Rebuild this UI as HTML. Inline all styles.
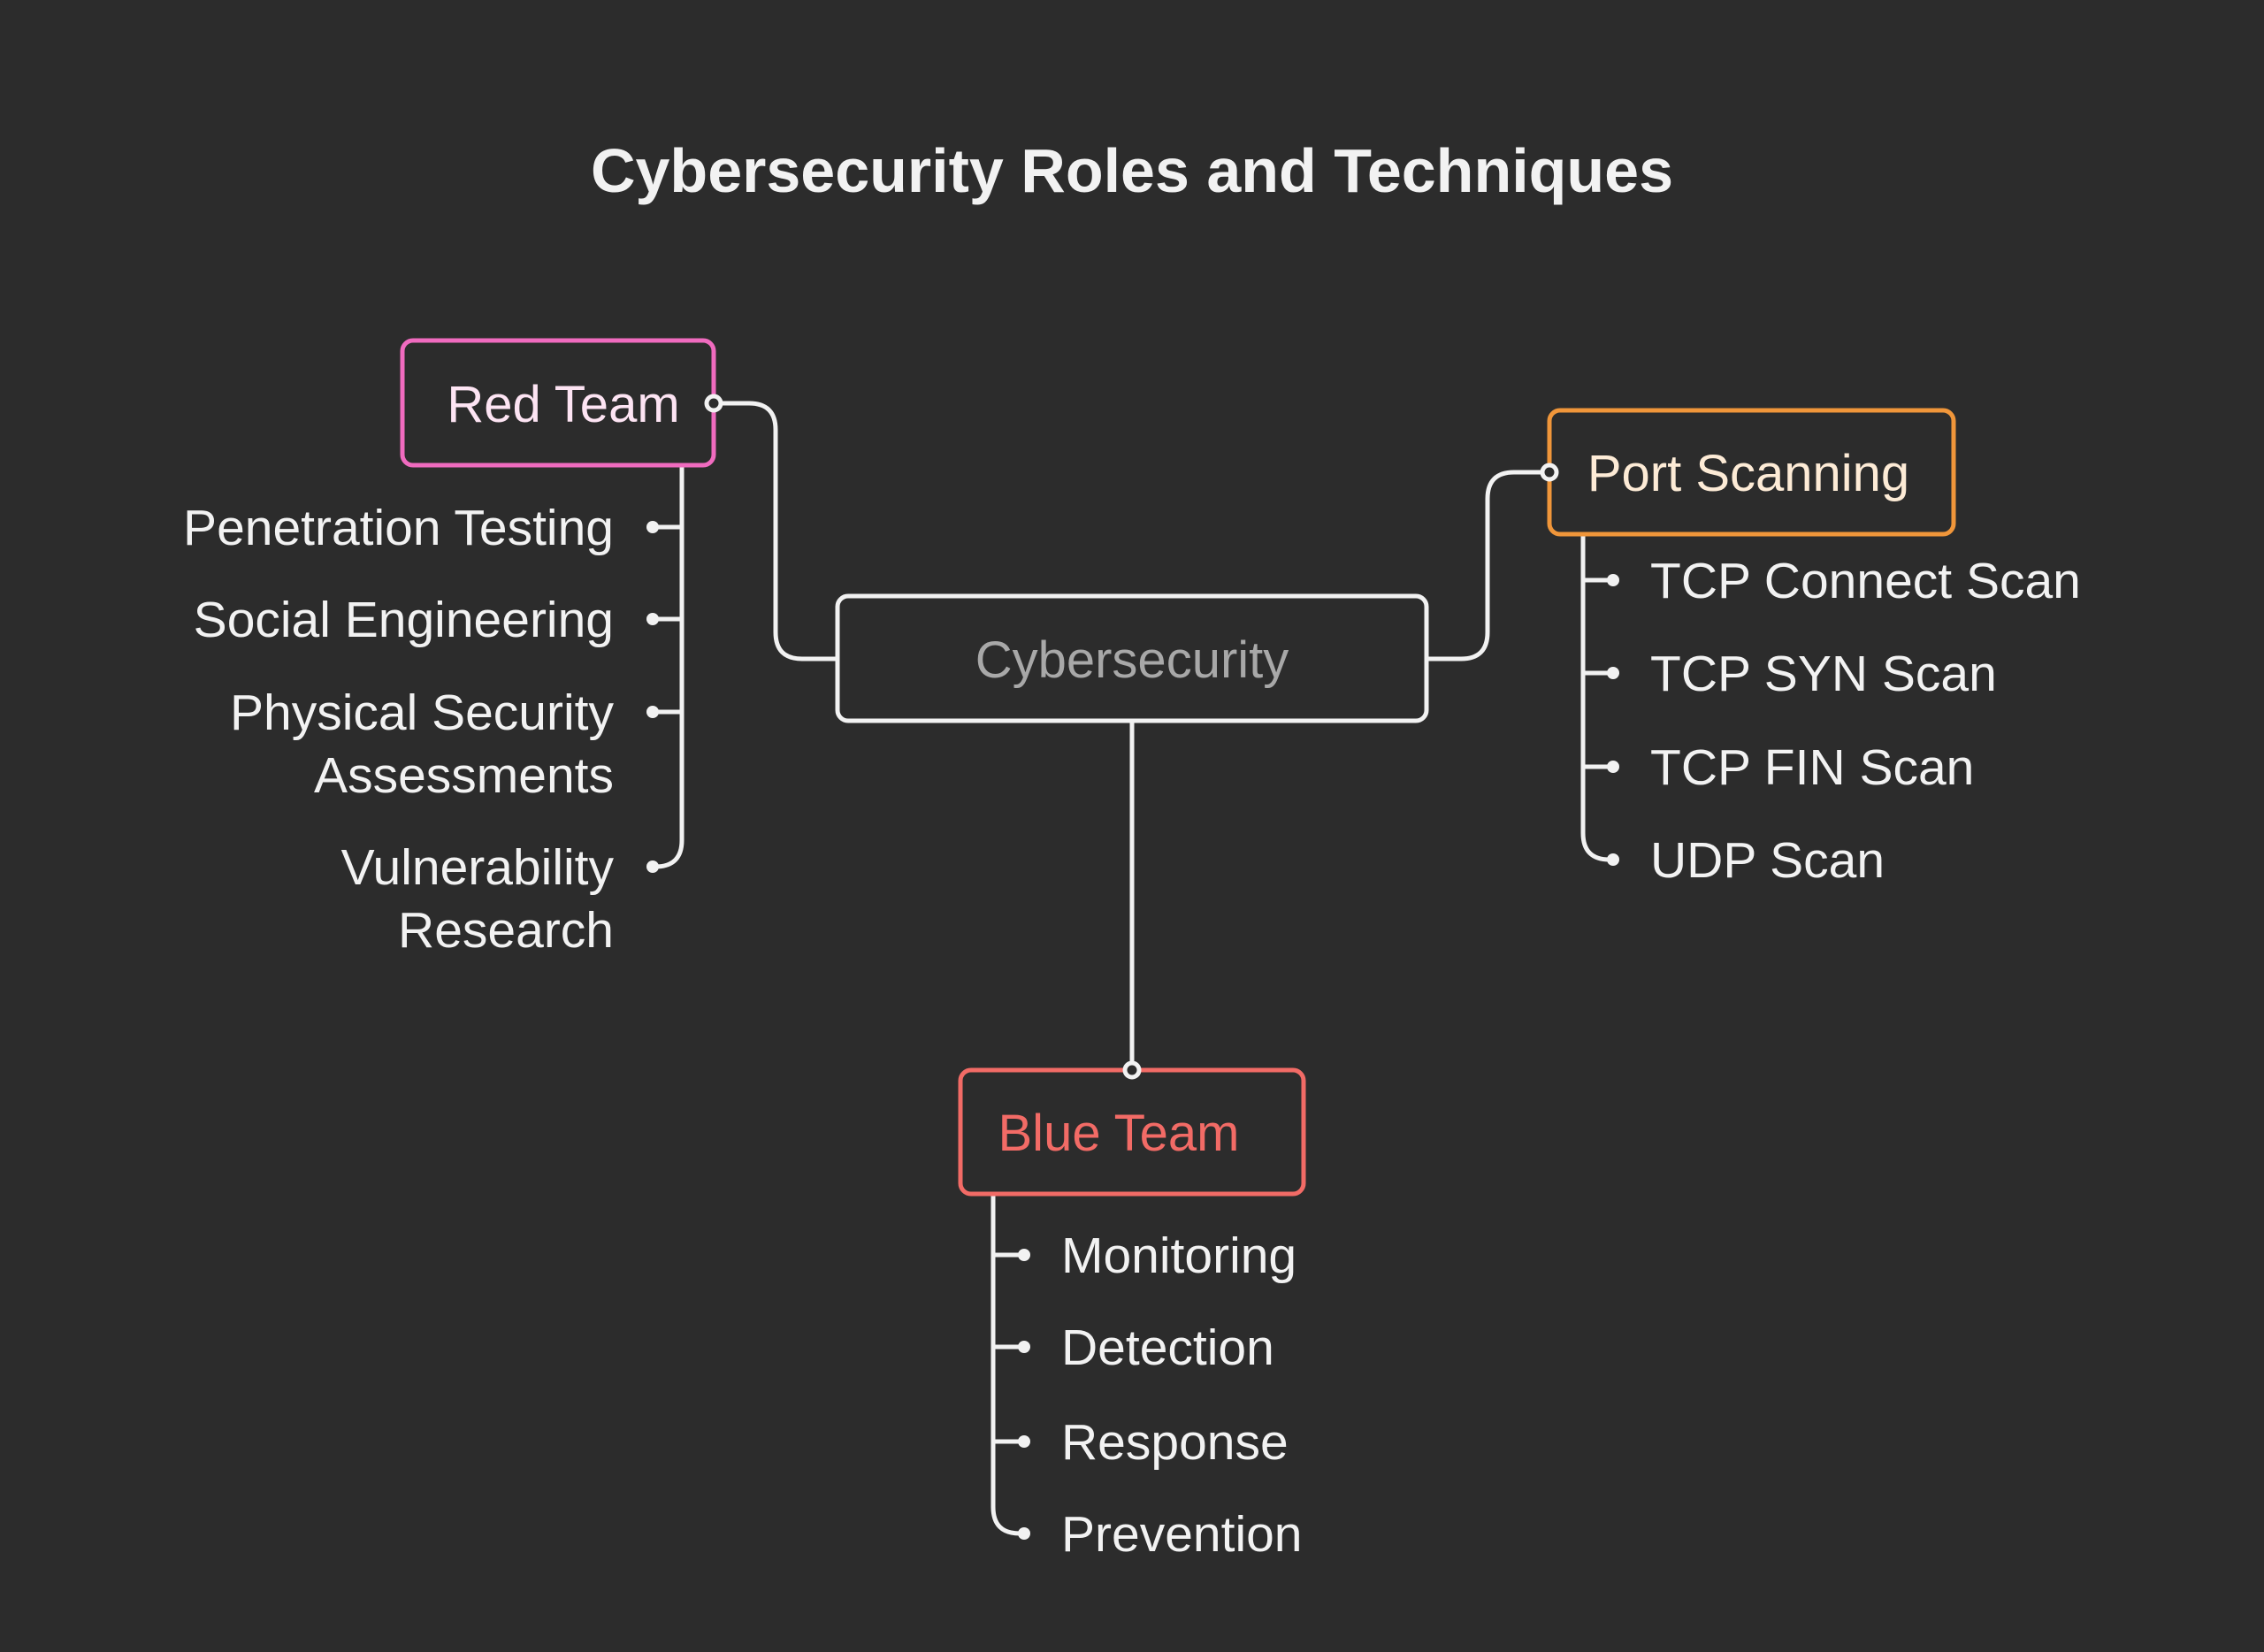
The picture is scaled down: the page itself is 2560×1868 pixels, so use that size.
<!DOCTYPE html>
<html><head><meta charset="utf-8"><style>
html,body{margin:0;padding:0;background:#2c2c2c;}
svg{display:block}
text{font-family:"Liberation Sans",Arial,sans-serif;}
</style></head><body>
<svg width="2560" height="1868" viewBox="0 0 2560 1868" xmlns="http://www.w3.org/2000/svg">
<rect width="2560" height="1868" fill="#2c2c2c"/>
<text x="1280" y="217" text-anchor="middle" font-size="70" font-weight="bold" fill="#f2f2f2">Cybersecurity Roles and Techniques</text>

<g fill="none" stroke="#f2f2f2" stroke-width="5">
  <path d="M807 456 H847 Q877 456 877 486 V715 Q877 745 907 745 H947"/>
  <path d="M1613 745 H1652 Q1682 745 1682 715 V564 Q1682 534 1712 534 H1752"/>
  <path d="M1280 815 V1210"/>
  <path d="M771 526 V950 Q771 980 741 980 H738"/>
  <path d="M771 596 H738 M771 700 H738 M771 805 H738"/>
  <path d="M1790 604 V942 Q1790 972 1820 972 H1824"/>
  <path d="M1790 656 H1824 M1790 761 H1824 M1790 867 H1824"/>
  <path d="M1123 1350 V1704 Q1123 1734 1153 1734 H1158"/>
  <path d="M1123 1419 H1158 M1123 1523 H1158 M1123 1630 H1158"/>
</g>
<g fill="#f2f2f2">
  <circle cx="738" cy="596" r="7"/><circle cx="738" cy="700" r="7"/><circle cx="738" cy="805" r="7"/><circle cx="738" cy="980" r="7"/>
  <circle cx="1824" cy="656" r="7"/><circle cx="1824" cy="761" r="7"/><circle cx="1824" cy="867" r="7"/><circle cx="1824" cy="972" r="7"/>
  <circle cx="1158" cy="1419" r="7"/><circle cx="1158" cy="1523" r="7"/><circle cx="1158" cy="1630" r="7"/><circle cx="1158" cy="1734" r="7"/>
</g>

<rect x="455" y="385" width="352" height="141" rx="12" fill="#2c2c2c" stroke="#f06bbf" stroke-width="5"/>
<text x="637" y="477" text-anchor="middle" font-size="58" fill="#fde4f3">Red Team</text>
<rect x="947" y="674" width="666" height="141" rx="12" fill="#2c2c2c" stroke="#f2f2f2" stroke-width="5"/>
<text x="1280" y="766" text-anchor="middle" font-size="58" fill="#a8a8a8">Cybersecurity</text>
<rect x="1752" y="464" width="457" height="140" rx="12" fill="#2c2c2c" stroke="#f0963a" stroke-width="5"/>
<text x="1977" y="555" text-anchor="middle" font-size="58" fill="#fdebd6">Port Scanning</text>
<rect x="1086" y="1210" width="388" height="140" rx="12" fill="#2c2c2c" stroke="#f26b66" stroke-width="5"/>
<text x="1265" y="1301" text-anchor="middle" font-size="58" fill="#f26b66">Blue Team</text>

<g fill="#2c2c2c" stroke="#f2f2f2" stroke-width="5">
  <circle cx="807" cy="456" r="8"/>
  <circle cx="1752" cy="534" r="8"/>
  <circle cx="1280" cy="1210" r="8"/>
</g>

<g font-size="57" fill="#f2f2f2" text-anchor="end">
  <text x="694" y="616">Penetration Testing</text>
  <text x="694" y="720">Social Engineering</text>
  <text x="694" y="825">Physical Security</text>
  <text x="694" y="896">Assessments</text>
  <text x="694" y="1000">Vulnerability</text>
  <text x="694" y="1071">Research</text>
</g>
<g font-size="57" fill="#f2f2f2">
  <text x="1866" y="676">TCP Connect Scan</text>
  <text x="1866" y="781">TCP SYN Scan</text>
  <text x="1866" y="887">TCP FIN Scan</text>
  <text x="1866" y="992">UDP Scan</text>
  <text x="1200" y="1439">Monitoring</text>
  <text x="1200" y="1543">Detection</text>
  <text x="1200" y="1650">Response</text>
  <text x="1200" y="1754">Prevention</text>
</g>
</svg>
</body></html>
